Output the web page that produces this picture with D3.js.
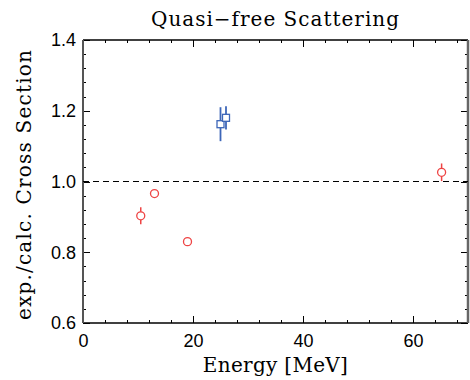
<!DOCTYPE html>
<html lang="en">
<head>
<meta charset="UTF-8">
<title>Quasi-free Scattering</title>
<style>
    body { margin: 0; background: #fff; }
    .tick text { font-family: "Liberation Sans", sans-serif; font-size: 18px; fill: #000; }
    .axis path { display: none; }
    .axis line { stroke: #000; shape-rendering: crispEdges; }
    .label { font-family: "DejaVu Serif", serif; font-size: 20px; }
</style>
</head>
<body>
<script src="https://cdn.jsdelivr.net/npm/d3@7"></script>
<script>
    // red circles
    const red_energy = [10.5, 13.0, 19.0, 65.2];
    const red_ratio = [0.903, 0.966, 0.830, 1.026];
    const red_err = [0.024, 0.006, 0.006, 0.025];

    // blue squares
    const blue_energy = [25.0, 26.0];
    const blue_ratio = [1.162, 1.180];
    const blue_err = [0.048, 0.033];

    const x_ticks = [0, 20, 40, 60];
    const y_ticks = [0.6, 0.8, 1.0, 1.2, 1.4];
    const ref_line = 1.0;

    const svg_w = 470, svg_h = 380;
    const m = { left: 83, right: 2, top: 40, bottom: 57 };

    const x_scale = d3.scaleLinear([0, 70], [m.left, svg_w - m.right]);
    const y_scale = d3.scaleLinear([0.6, 1.4], [svg_h - m.bottom, m.top]);

    const svg = d3.select('body').append('svg')
        .attr('width', svg_w).attr('height', svg_h);

    const x0 = x_scale.range()[0], x1 = x_scale.range()[1];
    const y0 = y_scale.range()[0], y1 = y_scale.range()[1];

    const minor_x = d3.range(0, 70.01, 4).filter(v => v % 20 != 0);
    const minor_y = d3.range(0.6, 1.4001, 0.04).filter(v => Math.abs(v * 5 - Math.round(v * 5)) > 1e-6);

    // axes, ticks inward
    const axis_bottom = d3.axisBottom(x_scale).tickValues(x_ticks).tickSizeInner(-7).tickSizeOuter(0).tickPadding(11).tickFormat(d3.format('d'));
    const axis_bottom_minor = d3.axisBottom(x_scale).tickValues(minor_x).tickSize(-3).tickFormat('');
    const axis_top = d3.axisTop(x_scale).tickValues(x_ticks).tickSize(-7).tickFormat('');
    const axis_top_minor = d3.axisTop(x_scale).tickValues(minor_x).tickSize(-3).tickFormat('');
    const axis_left = d3.axisLeft(y_scale).tickValues(y_ticks).tickSizeInner(-7).tickSizeOuter(0).tickPadding(7).tickFormat(d3.format('.1f'));
    const axis_left_minor = d3.axisLeft(y_scale).tickValues(minor_y).tickSize(-3).tickFormat('');
    const axis_right = d3.axisRight(y_scale).tickValues(y_ticks).tickSize(-7).tickFormat('');
    const axis_right_minor = d3.axisRight(y_scale).tickValues(minor_y).tickSize(-3).tickFormat('');

    svg.append('g').attr('class', 'axis').attr('transform', `translate(0,${y0})`).call(axis_bottom);
    svg.append('g').attr('class', 'axis').attr('transform', `translate(0,${y0})`).call(axis_bottom_minor);
    svg.append('g').attr('class', 'axis').attr('transform', `translate(0,${y1})`).call(axis_top);
    svg.append('g').attr('class', 'axis').attr('transform', `translate(0,${y1})`).call(axis_top_minor);
    svg.append('g').attr('class', 'axis').attr('transform', `translate(${x0},0)`).call(axis_left);
    svg.append('g').attr('class', 'axis').attr('transform', `translate(${x0},0)`).call(axis_left_minor);
    svg.append('g').attr('class', 'axis').attr('transform', `translate(${x1},0)`).call(axis_right);
    svg.append('g').attr('class', 'axis').attr('transform', `translate(${x1},0)`).call(axis_right_minor);

    // frame
    svg.append('line').attr('x1', x0).attr('x2', x1).attr('y1', y0).attr('y2', y0).attr('stroke', '#000').attr('stroke-width', 1.5);
    svg.append('line').attr('x1', x0).attr('x2', x1).attr('y1', y1).attr('y2', y1).attr('stroke', '#000').attr('stroke-width', 1.5);
    svg.append('line').attr('x1', x0).attr('x2', x0).attr('y1', y0).attr('y2', y1).attr('stroke', '#555').attr('stroke-width', 2);
    svg.append('line').attr('x1', x1).attr('x2', x1).attr('y1', y0).attr('y2', y1).attr('stroke', '#666').attr('stroke-width', 2.5);

    // reference line
    svg.append('line')
        .attr('x1', x0).attr('x2', x1)
        .attr('y1', y_scale(ref_line)).attr('y2', y_scale(ref_line))
        .attr('stroke', '#000').attr('stroke-width', 1)
        .attr('stroke-dasharray', '6,4');

    const red = '#ee4444';
    const blue = '#3d66b8';

    const red_data = red_energy.map((e, i) => ({ e: e, r: red_ratio[i], err: red_err[i] }));
    const blue_data = blue_energy.map((e, i) => ({ e: e, r: blue_ratio[i], err: blue_err[i] }));

    // error bars
    svg.selectAll('line.err_red').data(red_data).enter().append('line')
        .attr('x1', d => x_scale(d.e)).attr('x2', d => x_scale(d.e))
        .attr('y1', d => y_scale(d.r - d.err)).attr('y2', d => y_scale(d.r + d.err))
        .attr('stroke', red).attr('stroke-width', 1.5);
    svg.selectAll('line.err_blue').data(blue_data).enter().append('line')
        .attr('x1', d => x_scale(d.e)).attr('x2', d => x_scale(d.e))
        .attr('y1', d => y_scale(d.r - d.err)).attr('y2', d => y_scale(d.r + d.err))
        .attr('stroke', blue).attr('stroke-width', 1.8);

    svg.selectAll('circle.pt').data(red_data).enter().append('circle')
        .attr('cx', d => x_scale(d.e)).attr('cy', d => y_scale(d.r)).attr('r', 4)
        .attr('fill', '#fff').attr('stroke', red).attr('stroke-width', 1.3);

    svg.selectAll('rect.pt').data(blue_data).enter().append('rect')
        .attr('x', d => x_scale(d.e) - 3.5).attr('y', d => y_scale(d.r) - 3.5)
        .attr('width', 7).attr('height', 7)
        .attr('fill', '#fff').attr('stroke', blue).attr('stroke-width', 1.3);

    // labels
    svg.append('text').attr('class', 'label')
        .attr('x', (x0 + x1) / 2).attr('y', 26)
        .attr('text-anchor', 'middle').attr('letter-spacing', 1)
        .text('Quasi\u2212free Scattering');

    svg.append('text').attr('class', 'label')
        .attr('x', (x0 + x1) / 2).attr('y', 372)
        .attr('text-anchor', 'middle').attr('letter-spacing', 0.3)
        .text('Energy [MeV]');

    svg.append('text').attr('class', 'label')
        .attr('transform', `translate(31,${(y0 + y1) / 2 + 3}) rotate(-90)`)
        .attr('text-anchor', 'middle').attr('letter-spacing', 1.2)
        .text('exp./calc. Cross Section');
</script>
</body>
</html>
